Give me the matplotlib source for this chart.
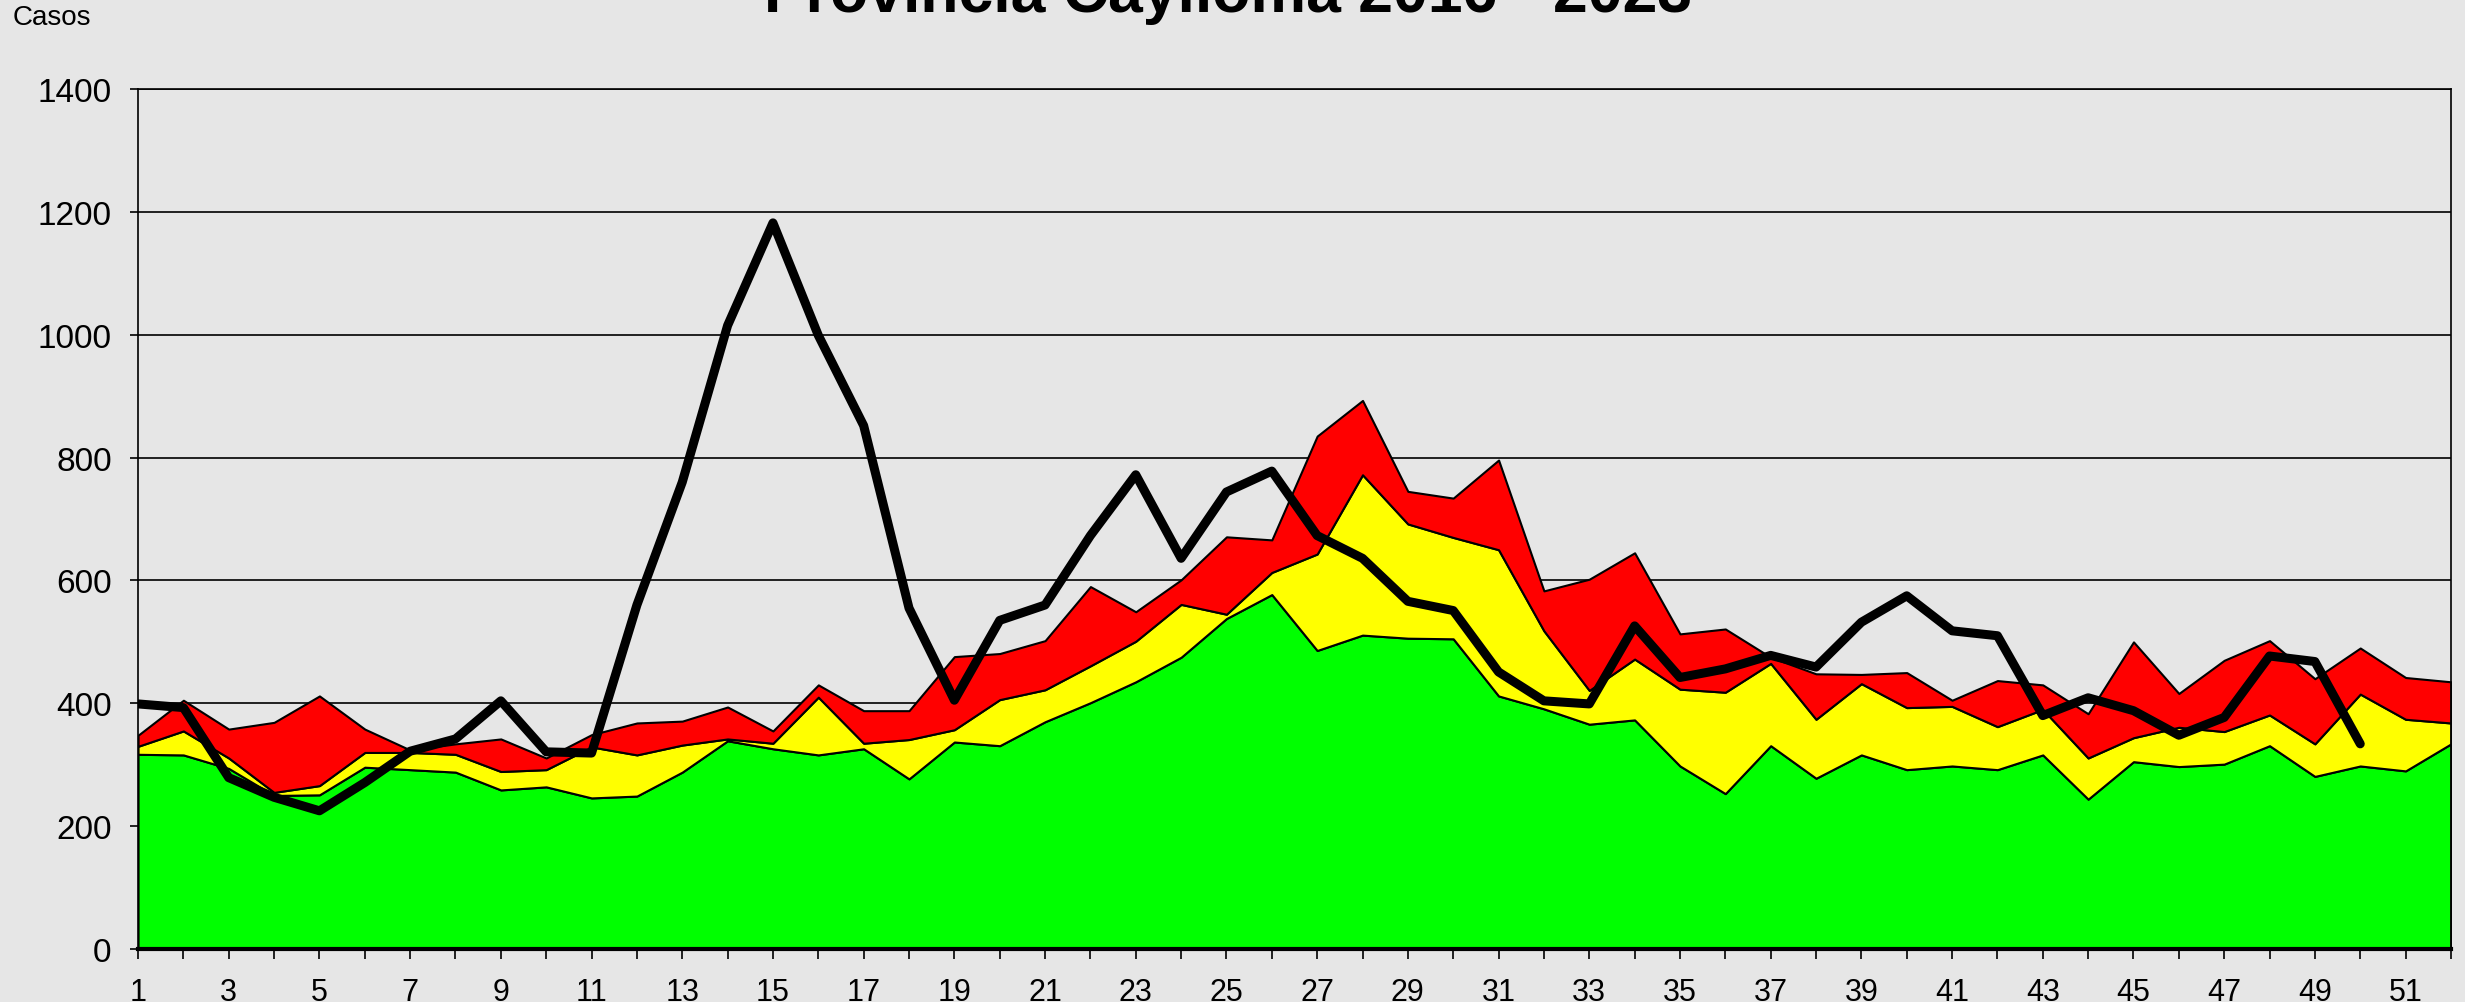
import numpy as np
import matplotlib.pyplot as plt

plt.rcParams['font.family'] = ['Liberation Sans', 'DejaVu Sans']

# semanas epidemiologicas
semanas = np.arange(1, 53)

# limite superior de cada zona del canal endemico (casos)
zona_exito = [317, 316, 294, 250, 251, 296, 292, 288, 259, 264,
              246, 249, 288, 339, 326, 316, 326, 277, 337, 331,
              370, 401, 435, 475, 538, 577, 486, 511, 506, 505,
              412, 391, 366, 373, 298, 253, 331, 278, 316, 292,
              298, 292, 316, 244, 305, 297, 301, 331, 281, 298,
              290, 334]
zona_seguridad = [330, 355, 311, 255, 266, 320, 320, 317, 289, 292,
                  329, 316, 332, 342, 335, 410, 335, 341, 357, 406,
                  422, 461, 501, 561, 545, 613, 643, 772, 692, 670,
                  650, 518, 421, 472, 423, 418, 465, 374, 432, 393,
                  395, 362, 390, 311, 344, 361, 354, 381, 334, 415,
                  374, 368]
zona_alarma = [348, 405, 358, 369, 412, 358, 324, 334, 342, 311,
               349, 368, 371, 394, 355, 430, 388, 388, 476, 481,
               502, 590, 549, 601, 671, 666, 835, 893, 745, 734,
               796, 583, 602, 645, 513, 521, 475, 448, 447, 450,
               405, 437, 430, 383, 500, 416, 470, 502, 440, 490,
               442, 435]

# casos del anio actual (hasta la semana 50)
casos = [399, 393, 279, 247, 225, 271, 322, 342, 404, 321,
         319, 560, 760, 1015, 1182, 999, 852, 555, 405, 535,
         560, 673, 772, 636, 744, 778, 673, 636, 566, 551,
         451, 404, 399, 526, 442, 456, 478, 459, 532, 575,
         518, 510, 380, 409, 388, 348, 377, 477, 468, 334]

fondo = '#e6e6e6'
fig = plt.figure(figsize=(24.65, 10.03), dpi=100, facecolor=fondo)
ax = fig.add_axes([0.056, 0.0528, 0.9383, 0.8575], facecolor=fondo)

ax.fill_between(semanas, 0, zona_exito, color='#00ff00', edgecolor='black', linewidth=1.5, zorder=2)
ax.fill_between(semanas, zona_exito, zona_seguridad, color='#ffff00', edgecolor='black', linewidth=1.5, zorder=2)
ax.fill_between(semanas, zona_seguridad, zona_alarma, color='#ff0000', edgecolor='black', linewidth=1.5, zorder=2)
ax.plot(semanas[:len(casos)], casos, color='black', linewidth=6.5,
        solid_capstyle='round', solid_joinstyle='round', zorder=3)

ax.set_xlim(1, 52)
ax.set_ylim(0, 1400)
ax.set_yticks(np.arange(0, 1401, 200))
ax.set_xticks(semanas)
ax.set_xticklabels([str(s) if s % 2 == 1 else '' for s in semanas])
ax.grid(axis='y', color='black', linewidth=1.2, zorder=1)
ax.set_axisbelow(True)

ax.tick_params(axis='y', labelsize=24, length=6, width=1.2, pad=13)
ax.tick_params(axis='x', labelsize=22, length=7, width=1.2, pad=13)
for lado in ['left', 'right', 'top']:
    ax.spines[lado].set_linewidth(1.2)
ax.spines['bottom'].set_linewidth(3)
ax.spines['bottom'].set_zorder(4)

fig.text(0.005, 0.982, 'Casos', fontsize=20, va='center', ha='left')
fig.text(0.498, 0.988, 'Provincia Caylloma 2016 - 2023', fontsize=45,
         fontweight='bold', ha='center', va='baseline')

fig.savefig('out.png', dpi=100, facecolor=fondo)
